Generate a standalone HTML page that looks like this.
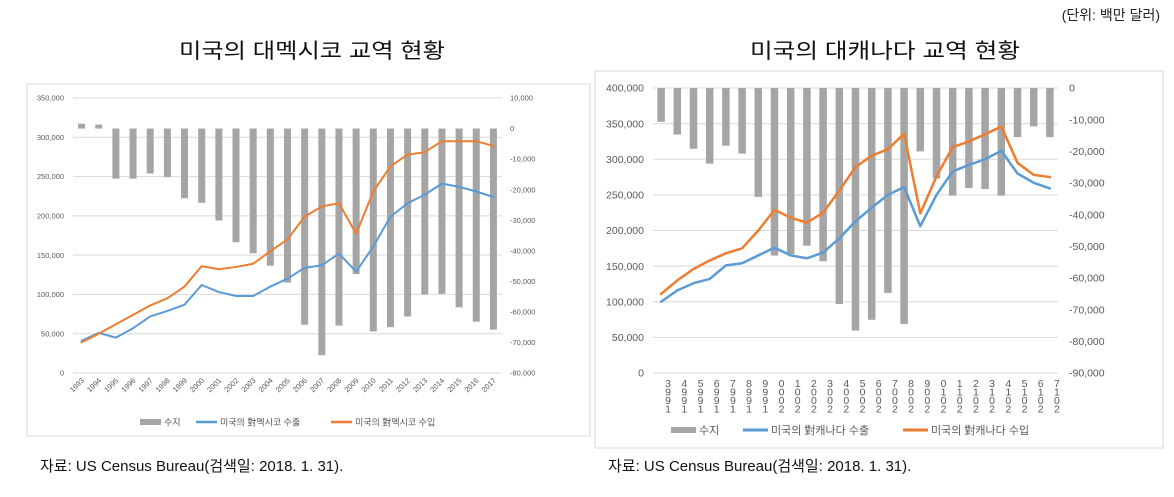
<!DOCTYPE html>
<html><head><meta charset="utf-8">
<style>
html,body{margin:0;padding:0;background:#fff;}
svg{display:block;font-family:"Liberation Sans","Noto Sans CJK KR",sans-serif;}
</style></head>
<body>
<svg id="root" width="1174" height="497" viewBox="0 0 1174 497">
  <text x="1160" y="20" text-anchor="end" font-size="14" fill="#222">(단위: 백만 달러)</text>
  <text x="312" y="58" text-anchor="middle" font-size="21" fill="#111" textLength="266" lengthAdjust="spacingAndGlyphs">미국의 대멕시코 교역 현황</text>
  <text x="885" y="58" text-anchor="middle" font-size="21" fill="#111" textLength="270" lengthAdjust="spacingAndGlyphs">미국의 대캐나다 교역 현황</text>
  <rect x="27" y="84" width="563" height="352" fill="none" stroke="#d9d9d9"/>
  <rect x="595" y="71" width="568" height="377" fill="none" stroke="#d9d9d9"/>
  <text x="40" y="471" font-size="15" fill="#111">자료: US Census Bureau(검색일: 2018. 1. 31).</text>
  <text x="608" y="471" font-size="15" fill="#111">자료: US Census Bureau(검색일: 2018. 1. 31).</text>
  <g id="mx"></g>
  <g id="ca"></g>
</svg>
<script>
const years = ["1993","1994","1995","1996","1997","1998","1999","2000","2001","2002","2003","2004","2005","2006","2007","2008","2009","2010","2011","2012","2013","2014","2015","2016","2017"];
const mxExports = [41000,51000,45000,57000,72000,79000,87000,112000,103000,98000,98000,110000,120000,134000,137000,152000,129000,161000,199000,216000,227000,241000,237000,231000,224000];
const mxImports = [39000,50000,62000,74000,86000,95000,110000,136000,132000,135000,139000,155000,170000,199000,212000,216000,177000,231000,263000,278000,281000,295000,295000,295000,289000];
const mxBalance = [1600,1300,-16400,-16400,-14700,-15900,-22800,-24300,-30100,-37200,-40800,-44900,-50400,-64200,-74200,-64500,-47600,-66400,-65000,-61500,-54300,-54100,-58500,-63200,-65800];
const mxLeftTicks = [0,50000,100000,150000,200000,250000,300000,350000];
const mxRightTicks = [10000,0,-10000,-20000,-30000,-40000,-50000,-60000,-70000,-80000];
const caExports = [100000,116000,126000,132000,151000,154000,165000,176000,165000,161000,169000,189000,213000,232000,250000,261000,206000,250000,283000,292000,300000,312000,280000,267000,259000];
const caImports = [111000,130000,146000,158000,168000,175000,200000,229000,218000,211000,225000,256000,289000,305000,314000,336000,224000,276000,317000,325000,335000,346000,295000,278000,275000];
const caBalance = [-10700,-14700,-19200,-23900,-18200,-20700,-34400,-52900,-52500,-49800,-54700,-68200,-76600,-73200,-64700,-74500,-20000,-28600,-34000,-31600,-31900,-34000,-15500,-12100,-15500];
const caLeftTicks = [0,50000,100000,150000,200000,250000,300000,350000,400000];
const caRightTicks = [0,-10000,-20000,-30000,-40000,-50000,-60000,-70000,-80000,-90000];

const NS="http://www.w3.org/2000/svg";
function mk(parent,tag,attrs){const e=document.createElementNS(NS,tag);for(const k in attrs)e.setAttribute(k,attrs[k]);parent.appendChild(e);return e;}
function fmt(v){return v.toLocaleString("en-US");}

function drawChart(g,cfg,cats,exp,imp,bal,lt,rt){
  const yL=v=>cfg.y0+(cfg.y1-cfg.y0)*(v-cfg.lMin)/(cfg.lMax-cfg.lMin);
  const yR=v=>cfg.y0+(cfg.y1-cfg.y0)*(v-cfg.rMin)/(cfg.rMax-cfg.rMin);
  const step=(cfg.x1-cfg.x0)/cats.length;
  const xC=i=>cfg.x0+step*(i+0.5);
  lt.forEach(v=>{
    const l=mk(g,"line",{x1:cfg.x0,x2:cfg.x1,y1:yL(v),y2:yL(v),stroke:"#d9d9d9","stroke-width":1});
    
    
    const t=mk(g,"text",{x:cfg.lx,y:yL(v)+cfg.fs*0.35,"text-anchor":"end","font-size":cfg.fs,fill:"#595959"});
    t.textContent=fmt(v);
    
    
  });
  rt.forEach(v=>{
    const t=mk(g,"text",{x:cfg.rx,y:yR(v)+cfg.fs*0.35,"text-anchor":"start","font-size":cfg.fs,fill:"#595959"});
    t.textContent=fmt(v);
    
    
  });
  bal.forEach((v,i)=>{
    const a=yR(0),b=yR(v);
    const r=mk(g,"rect",{x:xC(i)-cfg.bw/2,y:Math.min(a,b),width:cfg.bw,height:Math.abs(b-a),fill:"#a5a5a5"});
    
    
  });
  [[exp,"#5b9bd5","exports-line"],[imp,"#ed7d31","imports-line"]].forEach(([arr,c,n])=>{
    const p=mk(g,"polyline",{points:arr.map((v,i)=>xC(i)+","+yL(v)).join(" "),fill:"none",stroke:c,"stroke-width":cfg.lw,"stroke-linejoin":"round","stroke-linecap":"round"});
    
    
  });
  cats.forEach((c,i)=>{
    if(cfg.rot){
      const x=xC(i)+3,y=cfg.y0+8;
      const t=mk(g,"text",{x:x,y:y,"text-anchor":"end","font-size":7.5,fill:"#595959",transform:"rotate(-45 "+x+" "+y+")"});
      t.textContent=c;
      
      
    } else {
      const t=mk(g,"text",{x:xC(i)+7,y:cfg.y0+14,"text-anchor":"middle","font-size":10.5,fill:"#595959"});
      
      
      c.split("").reverse().forEach((ch,k)=>{
        const s=mk(t,"tspan",{x:xC(i)+7,y:cfg.y0+14+k*8.5});
        s.textContent=ch;
      });
    }
  });
  const L=cfg.leg;
  const sw=mk(g,"rect",{x:L.x[0],y:L.y-3,width:L.sw,height:6,fill:"#a5a5a5"});
  
  
  [["#5b9bd5",1],["#ed7d31",2]].forEach(([c,k])=>{
    const l=mk(g,"line",{x1:L.x[k],x2:L.x[k]+L.sw,y1:L.y,y2:L.y,stroke:c,"stroke-width":cfg.lw+0.5});
    
    
  });
  L.labels.forEach((s,k)=>{
    const t=mk(g,"text",{x:L.x[k]+L.sw+3,y:L.y+L.fs*0.38,"font-size":L.fs,fill:"#595959"});
    t.textContent=s;
    
    
  });
}

drawChart(document.getElementById("mx"),
  {x0:73,x1:502,y0:373,y1:98,lMin:0,lMax:350000,rMin:-80000,rMax:10000,lx:64,rx:510,fs:7.5,bw:7,lw:2,rot:true,
   leg:{x:[140,196,331],y:422,sw:21,fs:9,labels:["수지","미국의 對멕시코 수출","미국의 對멕시코 수입"]}},
  years,mxExports,mxImports,mxBalance,mxLeftTicks,mxRightTicks);

drawChart(document.getElementById("ca"),
  {x0:653,x1:1058,y0:373,y1:88,lMin:0,lMax:400000,rMin:-90000,rMax:0,lx:644,rx:1069,fs:10.5,bw:7.5,lw:2.5,rot:false,
   leg:{x:[671,743,903],y:430,sw:25,fs:11,labels:["수지","미국의 對캐나다 수출","미국의 對캐나다 수입"]}},
  years,caExports,caImports,caBalance,caLeftTicks,caRightTicks);
</script>
</body></html>
